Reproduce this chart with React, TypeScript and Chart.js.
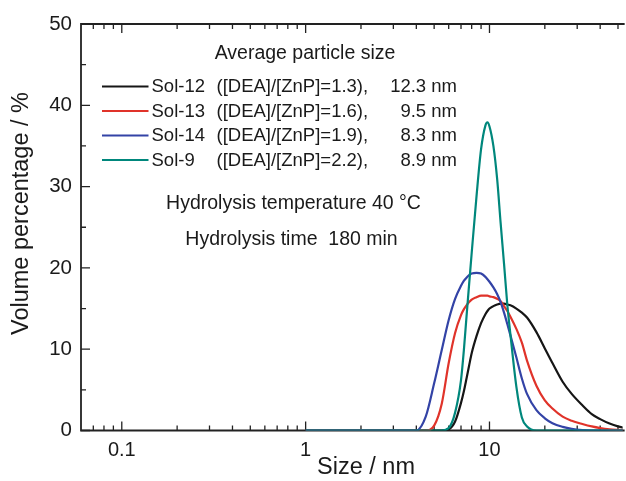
import React, { useEffect, useRef } from 'react';
import { Chart, registerables } from 'chart.js';

Chart.register(...registerables);

const FONT = '"Liberation Sans", Arial, Helvetica, sans-serif';

// particle size (nm) grid on which curves were read
const sizes = [1, 2, 3, 4, 4.5, 5, 5.5, 6, 6.5, 7, 7.25, 7.5, 7.75, 8, 8.5, 9, 9.5, 9.75, 10, 10.5, 11, 11.5, 12, 12.5, 13, 14, 15, 16, 18, 20, 22, 25, 28, 32, 36, 40, 45, 50, 55];

const sol12 = [0, 0, 0, 0, 0, 0, 0, 0.15, 1.1, 3.4, 4.8, 6.4, 8.0, 9.5, 11.6, 13.2, 14.3, 14.7, 15.0, 15.3, 15.5, 15.6, 15.6, 15.5, 15.4, 15.0, 14.5, 13.9, 12.1, 10.1, 8.3, 6.0, 4.5, 3.1, 2.0, 1.4, 0.85, 0.5, 0.3];
const sol13 = [0, 0, 0, 0, 0, 0.6, 3.3, 8.3, 12.0, 14.2, 14.9, 15.4, 15.8, 16.1, 16.4, 16.6, 16.6, 16.6, 16.5, 16.4, 16.2, 15.9, 15.3, 14.7, 14.0, 12.5, 10.8, 8.6, 5.5, 3.7, 2.7, 1.7, 1.2, 0.8, 0.5, 0.3, 0.15, 0.08, 0.04];
const sol14 = [0, 0, 0, 0, 1.7, 5.8, 9.9, 13.6, 16.2, 17.8, 18.4, 18.8, 19.1, 19.3, 19.4, 19.3, 18.9, 18.6, 18.3, 17.6, 16.8, 15.8, 14.5, 13.1, 11.7, 9.0, 6.4, 4.5, 2.5, 1.5, 0.9, 0.45, 0.2, 0.05, 0, 0, 0, 0, 0];
const sol9 = [0, 0, 0, 0, 0, 0, 0, 0.3, 2.2, 6.2, 9.8, 14.0, 18.0, 21.8, 28.8, 34.6, 37.5, 37.9, 37.4, 35.0, 31.0, 25.5, 20.5, 15.5, 11.8, 5.4, 1.6, 0.5, 0, 0, 0, 0, 0, 0, 0, 0, 0, 0, 0];

const seriesNames = ['Sol-12', 'Sol-13', 'Sol-14', 'Sol-9'];
const seriesRatios = ['([DEA]/[ZnP]=1.3),', '([DEA]/[ZnP]=1.6),', '([DEA]/[ZnP]=1.9),', '([DEA]/[ZnP]=2.2),'];
const seriesAvg = ['12.3 nm', '9.5 nm', '8.3 nm', '8.9 nm'];
const seriesColors = ['#161616', '#e0332a', '#3343a6', '#00877c'];
const seriesValues = [sol12, sol13, sol14, sol9];

const xTickValues = [0.07, 0.08, 0.09, 0.1, 0.2, 0.3, 0.4, 0.5, 0.6, 0.7, 0.8, 0.9, 1, 2, 3, 4, 5, 6, 7, 8, 9, 10, 20, 30, 40, 50];
const xMajorTicks = [0.1, 1, 10];
const yTickValues = [0, 10, 20, 30, 40, 50];
const yMinorTicks = [5, 15, 25, 35, 45];

const isMajorX = (v: number) => xMajorTicks.some((t) => Math.abs(v / t - 1) < 1e-6);

export default function App() {
  const ref = useRef<HTMLCanvasElement>(null);

  useEffect(() => {
    const canvas = ref.current;
    if (!canvas) return;

    const decor = {
      id: 'decor',
      beforeDatasetsDraw(chart: any) {
        const { ctx, chartArea, scales } = chart;
        const xs = scales.x;
        const ys = scales.y;
        ctx.save();
        ctx.strokeStyle = '#222';
        ctx.lineWidth = 1.8;
        ctx.beginPath();
        ctx.moveTo(chartArea.left, chartArea.top);
        ctx.lineTo(chartArea.right + 2, chartArea.top);
        ctx.moveTo(chartArea.left, chartArea.top - 0.9);
        ctx.lineTo(chartArea.left, chartArea.bottom);
        ctx.lineTo(chartArea.right + 2, chartArea.bottom);
        ctx.stroke();
        ctx.lineWidth = 1.3;
        ctx.beginPath();
        xTickValues.forEach((v) => {
          const px = xs.getPixelForValue(v);
          const len = isMajorX(v) ? 9 : 5;
          ctx.moveTo(px, chartArea.bottom);
          ctx.lineTo(px, chartArea.bottom - len);
          ctx.moveTo(px, chartArea.top);
          ctx.lineTo(px, chartArea.top + len);
        });
        yTickValues.forEach((v) => {
          const py = ys.getPixelForValue(v);
          ctx.moveTo(chartArea.left, py);
          ctx.lineTo(chartArea.left + 9, py);
        });
        yMinorTicks.forEach((v) => {
          const py = ys.getPixelForValue(v);
          ctx.moveTo(chartArea.left, py);
          ctx.lineTo(chartArea.left + 5, py);
        });
        ctx.stroke();
        ctx.restore();
      },
      afterDraw(chart: any) {
        const { ctx } = chart;
        ctx.save();
        ctx.fillStyle = '#1a1a1a';
        ctx.textBaseline = 'middle';
        // axis titles
        ctx.font = `23.5px ${FONT}`;
        ctx.textAlign = 'center';
        ctx.fillText('Size / nm', 366, 468);
        ctx.save();
        ctx.translate(22, 213.5);
        ctx.rotate(-Math.PI / 2);
        ctx.fillText('Volume percentage / %', 0, 0);
        ctx.restore();

        // annotations
        ctx.font = `19.5px ${FONT}`;
        ctx.fillText('Average particle size', 305, 53.5);
        ctx.fillText('Hydrolysis temperature 40 \u00B0C', 293.5, 203.5);
        ctx.fillText('Hydrolysis time  180 min', 291.5, 240);

        // legend
        const rowsY = [86.5, 111, 135.5, 160];
        ctx.font = `18.5px ${FONT}`;
        rowsY.forEach((y, i) => {
          ctx.strokeStyle = seriesColors[i];
          ctx.lineWidth = 2;
          ctx.beginPath();
          ctx.moveTo(102, y);
          ctx.lineTo(148.5, y);
          ctx.stroke();
          ctx.textAlign = 'left';
          ctx.fillText(seriesNames[i], 151.5, y + 0.5);
          ctx.fillText(seriesRatios[i], 216.5, y + 0.5);
          ctx.textAlign = 'right';
          ctx.fillText(seriesAvg[i], 457, y + 0.5);
        });
        ctx.restore();
      },
    };

    const orders = [3, 2, 1, 0];
    const chart = new Chart(canvas, {
      type: 'line',
      data: {
        datasets: seriesValues.map((vals, i) => ({
          label: seriesNames[i],
          data: sizes.map((x, j) => ({ x, y: vals[j] })),
          borderColor: seriesColors[i],
          backgroundColor: seriesColors[i],
          borderWidth: 2.2,
          pointRadius: 0,
          fill: false,
          cubicInterpolationMode: 'monotone' as const,
          order: orders[i],
        })),
      },
      options: {
        animation: false,
        responsive: false,
        devicePixelRatio: 1,
        layout: { padding: { top: 24, right: 1, left: 0, bottom: 0 } },
        plugins: {
          legend: { display: false },
          tooltip: { enabled: false },
        },
        scales: {
          x: {
            type: 'logarithmic',
            min: 0.06,
            max: 53,
            grid: { display: false, drawTicks: false },
            border: { display: false },
            afterBuildTicks: (s: any) => {
              s.ticks = xTickValues.map((v) => ({ value: v }));
            },
            afterFit: (s: any) => {
              s.height = 50.5;
            },
            ticks: {
              autoSkip: false,
              maxRotation: 0,
              padding: 8,
              color: '#1a1a1a',
              font: { family: FONT, size: 20 },
              callback: (v: any) => (isMajorX(Number(v)) ? String(Number(v)) : ''),
            },
          },
          y: {
            type: 'linear',
            min: 0,
            max: 50,
            grid: { display: false, drawTicks: false },
            border: { display: false },
            afterBuildTicks: (s: any) => {
              s.ticks = yTickValues.map((v) => ({ value: v }));
            },
            afterFit: (s: any) => {
              s.width = 81;
            },
            ticks: {
              padding: 9,
              color: '#1a1a1a',
              font: { family: FONT, size: 20.5 },
              callback: (v: any) => String(v),
            },
          },
        },
      },
      plugins: [decor],
    });

    return () => chart.destroy();
  }, []);

  return (
    <div style={{ position: 'absolute', left: 0, top: 0, width: 626, height: 481, background: '#fff' }}>
      <canvas ref={ref} width={626} height={481} style={{ display: 'block' }} />
    </div>
  );
}
